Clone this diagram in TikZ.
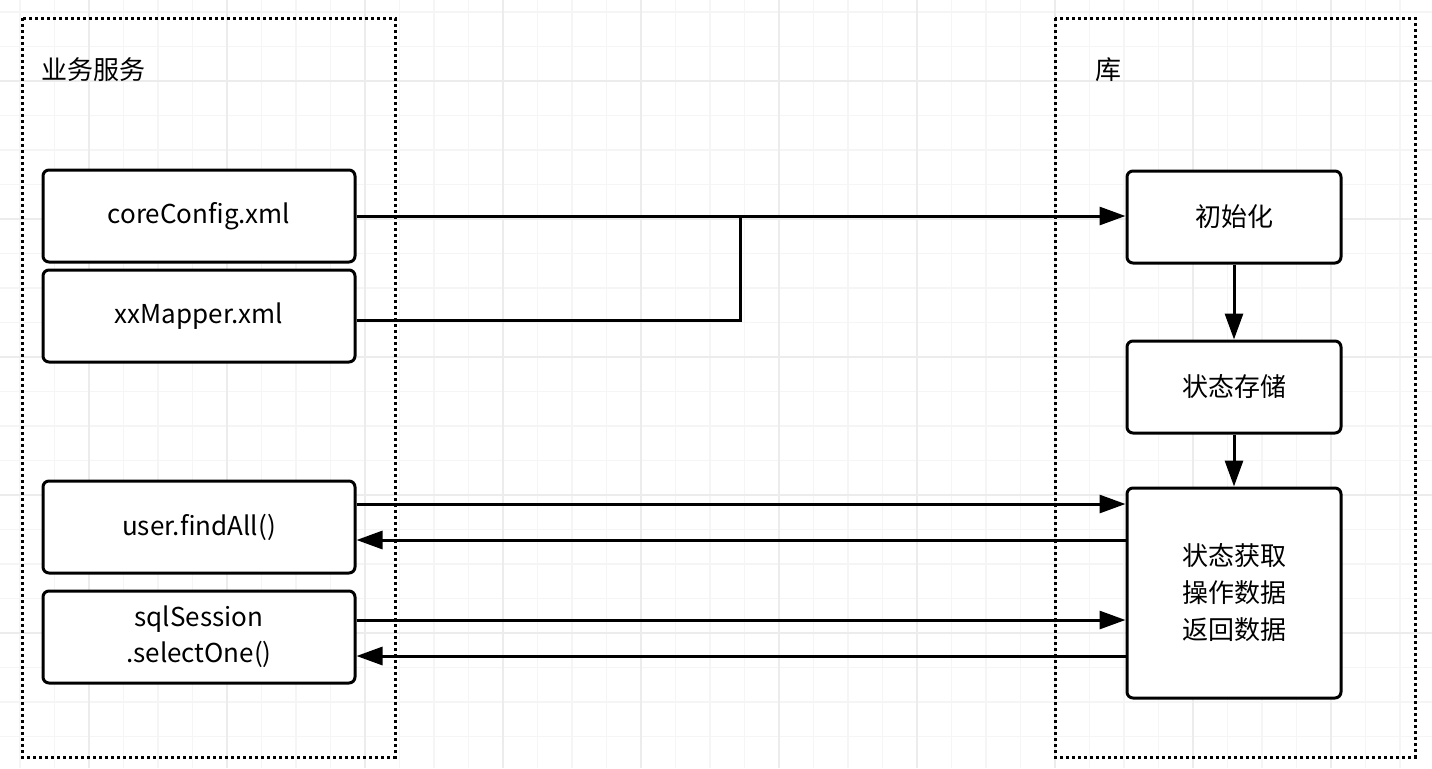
\documentclass[tikz,border=0pt]{standalone}
\usepackage{fontspec}
\setmainfont{Noto Sans CJK SC}
\usetikzlibrary{arrows.meta}

\tikzset{
  box/.style={draw, line width=1.5pt, rounded corners=3pt, fill=white,
    minimum width=156pt, minimum height=46pt, align=center, font=\fontsize{13}{16}\selectfont},
  rbox/.style={box, minimum width=107pt},
  zone/.style={draw, line width=1.5pt, dash pattern=on 1.5pt off 1.5pt},
  flow/.style={line width=1.5pt, -{Triangle[length=13pt,width=9pt]}},
  wire/.style={line width=1.5pt},
}

\begin{document}
\begin{tikzpicture}[x=0.5pt,y=-0.5pt]
    \useasboundingbox (0,0) rectangle (1432,768);

    % grid
    \foreach \i in {0,...,41} {
      \draw [gray!8, line width=0.6pt] (20+34.5*\i,0) -- (20+34.5*\i,768);
    }
    \foreach \i in {0,...,22} {
      \draw [gray!8, line width=0.6pt] (0,12+34.5*\i) -- (1432,12+34.5*\i);
    }
    \foreach \i in {0,...,10} {
      \draw [gray!15, line width=0.8pt] (89+138*\i,0) -- (89+138*\i,768);
    }
    \foreach \i in {0,...,5} {
      \draw [gray!15, line width=0.8pt] (0,81+138*\i) -- (1432,81+138*\i);
    }

    % zones
    \draw [zone] (22,18) rectangle (395,757);
    \draw [zone] (1055,18) rectangle (1415,757);
    \node [anchor=west, font=\fontsize{13}{16}\selectfont] (svc) at (34,70) {业务服务};
    \node [anchor=west, font=\fontsize{13}{16}\selectfont] (lib) at (1088,70) {库};

    % business side
    \node [box] (core) at (199,216) {coreConfig.xml};
    \node [box] (mapper) at (199,316) {xxMapper.xml};
    \node [box] (user) at (199,527) {user.findAll()};
    \node [box, font=\fontsize{13}{18}\selectfont] (sql) at (199,637) {sqlSession\\.selectOne()};

    % library side
    \node [rbox] (init) at (1234,217) {初始化};
    \node [rbox] (store) at (1234,387) {状态存储};
    \node [rbox, minimum height=105pt, font=\fontsize{13}{18.5}\selectfont] (work) at (1234,593) {状态获取\\操作数据\\返回数据};

    % flows
    \draw [flow] (core.east) -- (init.west |- core.east);
    \coordinate (join) at (740,216);
    \draw [wire] (mapper.east |- 0,320) -| (join);
    \draw [flow] (init) -- (store);
    \draw [flow] (store) -- (work);

    \draw [flow] (user.east |- 0,504) -- (work.west |- 0,504);
    \draw [flow] (work.west |- 0,540) -- (user.east |- 0,540);
    \draw [flow] (sql.east |- 0,620) -- (work.west |- 0,620);
    \draw [flow] (work.west |- 0,656) -- (sql.east |- 0,656);

\end{tikzpicture}
\end{document}
